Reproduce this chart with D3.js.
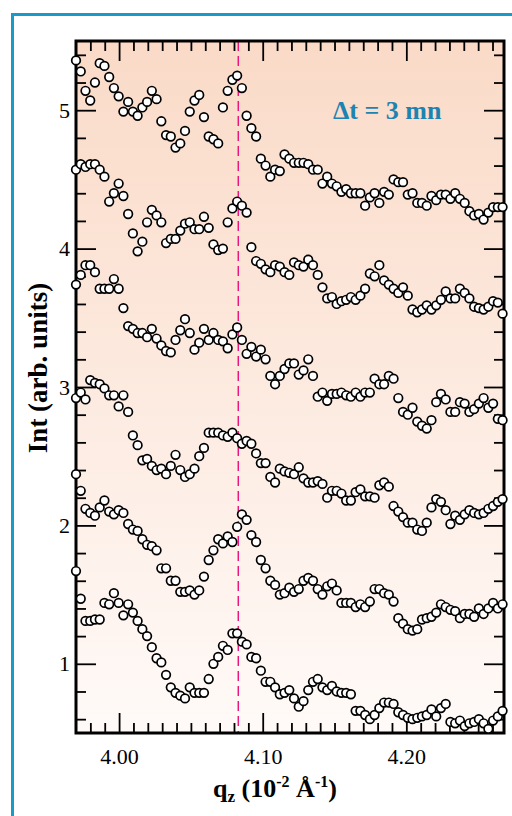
<!DOCTYPE html>
<html><head><meta charset="utf-8">
<script src="https://cdn.jsdelivr.net/npm/d3@7"></script>
<style>html,body{margin:0;padding:0;background:#fff;}svg{display:block;}</style>
</head><body>
<script>
// q_z values (10^-2 Å^-1), shared by every curve
const qz = [3.9700,3.9733,3.9766,3.9799,3.9832,3.9865,3.9898,3.9931,3.9964,3.9997,
4.0030,4.0063,4.0096,4.0129,4.0162,4.0195,4.0228,4.0261,4.0294,4.0327,
4.0360,4.0393,4.0426,4.0459,4.0492,4.0525,4.0558,4.0591,4.0624,4.0657,
4.0690,4.0723,4.0756,4.0789,4.0822,4.0855,4.0888,4.0921,4.0954,4.0987,
4.1020,4.1053,4.1086,4.1119,4.1152,4.1185,4.1218,4.1251,4.1284,4.1317,
4.1350,4.1383,4.1416,4.1449,4.1482,4.1515,4.1548,4.1581,4.1614,4.1647,
4.1680,4.1713,4.1746,4.1779,4.1812,4.1845,4.1878,4.1911,4.1944,4.1977,
4.2010,4.2043,4.2076,4.2109,4.2142,4.2175,4.2208,4.2241,4.2274,4.2307,
4.2340,4.2373,4.2406,4.2439,4.2472,4.2505,4.2538,4.2571,4.2604,4.2637,
4.2670];

const curve1 = [5.36,5.28,5.14,5.07,5.20,5.34,5.32,5.24,5.16,5.10,
4.99,5.06,4.99,4.96,5.02,5.06,5.14,5.08,4.92,4.82,
4.81,4.73,4.76,4.85,4.99,5.07,5.11,4.95,4.81,4.79,
4.76,5.02,5.14,5.22,5.25,5.16,4.96,4.87,4.81,4.65,
4.60,4.52,4.57,4.56,4.68,4.65,4.62,4.62,4.62,4.61,
4.57,4.57,4.47,4.52,4.47,4.45,4.41,4.43,4.40,4.40,
4.40,4.31,4.37,4.40,4.33,4.41,4.39,4.50,4.48,4.48,
4.39,4.40,4.33,4.33,4.31,4.38,4.35,4.39,4.39,4.36,
4.40,4.36,4.33,4.27,4.24,4.25,4.21,4.26,4.30,4.30,
4.30];
const curve2 = [4.57,4.61,4.59,4.61,4.61,4.57,4.52,4.34,4.40,4.47,
4.38,4.25,4.11,3.98,4.05,4.19,4.28,4.24,4.19,4.04,
4.07,4.07,4.13,4.18,4.19,4.14,4.14,4.23,4.15,4.03,
3.99,4.00,4.19,4.29,4.34,4.31,4.26,4.01,3.91,3.89,
3.85,3.83,3.88,3.87,3.83,3.81,3.90,3.88,3.87,3.92,
3.88,3.81,3.72,3.64,3.65,3.60,3.62,3.63,3.65,3.63,
3.66,3.71,3.82,3.80,3.88,3.77,3.74,3.71,3.68,3.72,
3.66,3.56,3.54,3.56,3.59,3.56,3.59,3.63,3.69,3.64,
3.64,3.71,3.68,3.64,3.58,3.57,3.56,3.58,3.62,3.61,
3.53];
const curve3 = [3.74,3.81,3.88,3.88,3.83,3.71,3.71,3.71,3.78,3.71,
3.57,3.44,3.42,3.39,3.39,3.36,3.42,3.35,3.30,3.26,
3.25,3.34,3.41,3.49,3.39,3.27,3.32,3.42,3.34,3.39,
3.34,3.33,3.28,3.38,3.43,3.34,3.24,3.29,3.22,3.27,
3.20,3.08,3.02,3.08,3.13,3.17,3.17,3.09,3.12,3.20,
3.08,2.93,2.96,2.90,2.95,2.95,2.96,2.94,2.93,2.96,
2.93,2.96,2.96,3.06,3.02,3.02,3.08,3.06,2.92,2.82,
2.80,2.85,2.75,2.72,2.70,2.76,2.89,2.95,2.91,2.82,
2.82,2.89,2.88,2.82,2.84,2.88,2.92,2.85,2.88,2.77,
2.76];
const curve4 = [2.92,2.96,2.91,3.05,3.03,3.02,2.99,2.94,2.94,2.86,
2.94,2.82,2.65,2.58,2.47,2.48,2.43,2.40,2.41,2.37,
2.43,2.51,2.40,2.35,2.37,2.41,2.50,2.56,2.67,2.67,
2.67,2.65,2.64,2.67,2.63,2.59,2.61,2.59,2.52,2.45,
2.45,2.35,2.31,2.41,2.39,2.38,2.37,2.42,2.34,2.31,
2.31,2.32,2.30,2.20,2.25,2.25,2.23,2.18,2.18,2.24,
2.26,2.21,2.21,2.20,2.29,2.31,2.28,2.14,2.10,2.06,
2.02,2.02,1.97,1.96,2.02,2.13,2.19,2.17,2.11,2.01,
2.07,2.04,2.08,2.11,2.09,2.08,2.09,2.12,2.14,2.17,
2.19];
const curve5 = [2.37,2.25,2.12,2.09,2.07,2.13,2.18,2.10,2.08,2.11,
2.09,2.01,1.97,1.96,1.90,1.86,1.85,1.82,1.69,1.69,
1.60,1.60,1.52,1.52,1.53,1.50,1.53,1.63,1.75,1.82,
1.90,1.87,1.92,1.88,1.99,2.08,2.04,1.93,1.88,1.75,
1.69,1.60,1.57,1.50,1.51,1.55,1.52,1.54,1.60,1.62,
1.60,1.54,1.50,1.56,1.58,1.53,1.44,1.44,1.44,1.41,
1.43,1.41,1.45,1.54,1.54,1.51,1.50,1.45,1.33,1.29,
1.25,1.24,1.25,1.32,1.33,1.34,1.37,1.43,1.41,1.39,
1.38,1.33,1.36,1.36,1.34,1.40,1.36,1.40,1.44,1.40,
1.43];
const curve6 = [1.67,1.47,1.31,1.31,1.32,1.32,1.44,1.43,1.51,1.44,
1.35,1.43,1.37,1.31,1.25,1.20,1.12,1.04,1.01,0.92,
0.83,0.79,0.77,0.75,0.83,0.79,0.79,0.79,0.89,1.00,
1.05,1.13,1.10,1.22,1.22,1.16,1.14,1.05,1.04,0.95,
0.87,0.87,0.83,0.78,0.79,0.81,0.75,0.69,0.73,0.81,
0.87,0.89,0.83,0.81,0.84,0.80,0.79,0.79,0.78,0.66,
0.66,0.63,0.60,0.63,0.68,0.72,0.72,0.71,0.65,0.63,
0.61,0.60,0.61,0.62,0.63,0.67,0.62,0.68,0.71,0.58,
0.57,0.59,0.55,0.57,0.58,0.60,0.57,0.53,0.59,0.62,
0.66];

const curves = [curve1, curve2, curve3, curve4, curve5, curve6];
const xMajorTicks = [4.00, 4.10, 4.20];
const yMajorTicks = [1, 2, 3, 4, 5];
const markerQ = 4.083;
const annotation = "Δt = 3 mn";

const W = 512, H = 816;
const L = 76, R = 504, T = 41, B = 733;
const serif = "'Liberation Serif','Times New Roman',Times,serif";

const svg = d3.select("body").append("svg").attr("width", W).attr("height", H);

const defs = svg.append("defs");
const grad = defs.append("linearGradient").attr("id", "bg").attr("x1", 0).attr("y1", 0).attr("x2", 0).attr("y2", 1);
grad.append("stop").attr("offset", "0%").attr("stop-color", "#fadac7");
grad.append("stop").attr("offset", "100%").attr("stop-color", "#fffaf8");

// outer frame
svg.append("rect").attr("x", 12.5).attr("y", 14.5).attr("width", 540).attr("height", 840)
  .attr("fill", "#fff").attr("stroke", "#1a9ac8").attr("stroke-width", 3);

const x = d3.scaleLinear().domain([3.97, 4.268]).range([L, R]);
const y = d3.scaleLinear().domain([0.5, 5.5]).range([B, T]);

svg.append("rect").attr("x", L).attr("y", T).attr("width", R - L).attr("height", B - T).attr("fill", "url(#bg)");

const xMinor = d3.range(398, 427).map(v => v / 100).filter(v => !xMajorTicks.some(m => Math.abs(m - v) < 1e-6));
const yMinor = d3.range(3, 28).map(v => v / 5).filter(v => !yMajorTicks.some(m => Math.abs(m - v) < 1e-6));

function styleAxis(g) {
  g.select(".domain").remove();
  g.selectAll(".tick line").attr("stroke", "#000").attr("stroke-width", 1.8);
  g.selectAll(".tick text").attr("fill", "#000").style("font-family", serif).style("font-size", "22px");
}

// bottom
svg.append("g").attr("transform", `translate(0,${B})`)
  .call(d3.axisBottom(x).tickValues(xMinor).tickSize(-10).tickFormat("")).call(styleAxis);
svg.append("g").attr("transform", `translate(0,${B})`)
  .call(d3.axisBottom(x).tickValues(xMajorTicks).tickSize(-20).tickPadding(15).tickFormat(d3.format(".2f"))).call(styleAxis);
// top
svg.append("g").attr("transform", `translate(0,${T})`)
  .call(d3.axisTop(x).tickValues(xMinor).tickSize(-10).tickFormat("")).call(styleAxis);
svg.append("g").attr("transform", `translate(0,${T})`)
  .call(d3.axisTop(x).tickValues(xMajorTicks).tickSize(-20).tickFormat("")).call(styleAxis);
// left
svg.append("g").attr("transform", `translate(${L},0)`)
  .call(d3.axisLeft(y).tickValues(yMinor).tickSize(-10).tickFormat("")).call(styleAxis);
svg.append("g").attr("transform", `translate(${L},0)`)
  .call(d3.axisLeft(y).tickValues(yMajorTicks).tickSize(-20).tickPadding(6).tickFormat(d3.format("d"))).call(styleAxis);
// right
svg.append("g").attr("transform", `translate(${R},0)`)
  .call(d3.axisRight(y).tickValues(yMinor).tickSize(-10).tickFormat("")).call(styleAxis);
svg.append("g").attr("transform", `translate(${R},0)`)
  .call(d3.axisRight(y).tickValues(yMajorTicks).tickSize(-20).tickFormat("")).call(styleAxis);

// dashed marker line
svg.append("line").attr("x1", x(markerQ)).attr("x2", x(markerQ)).attr("y1", T).attr("y2", B)
  .attr("stroke", "#e8187f").attr("stroke-width", 1.5).attr("stroke-dasharray", "10,5");

// plot frame
svg.append("rect").attr("x", L).attr("y", T).attr("width", R - L).attr("height", B - T)
  .attr("fill", "none").attr("stroke", "#000").attr("stroke-width", 3);

// data points
curves.forEach(c => {
  svg.append("g").selectAll("circle").data(c).join("circle")
    .attr("cx", (d, i) => x(qz[i])).attr("cy", d => y(d)).attr("r", 4.3)
    .attr("fill", "#fff").attr("stroke", "#000").attr("stroke-width", 1.7);
});

// annotation
svg.append("text").attr("x", 333).attr("y", 119).text(annotation)
  .style("font-family", serif).style("font-weight", "bold").style("font-size", "26px").attr("fill", "#1d83b0");

// x title
const xt = svg.append("text").attr("x", 275).attr("y", 797).attr("text-anchor", "middle")
  .style("font-family", serif).style("font-weight", "bold").style("font-size", "26px").attr("fill", "#000");
xt.append("tspan").text("q");
xt.append("tspan").text("z").attr("dy", 5).style("font-size", "17px");
xt.append("tspan").text(" (10").attr("dy", -5);
xt.append("tspan").text("-2").attr("dy", -10).style("font-size", "16px");
xt.append("tspan").text(" Å").attr("dy", 10);
xt.append("tspan").text("-1").attr("dy", -10).style("font-size", "16px");
xt.append("tspan").text(")").attr("dy", 10);

// y title
svg.append("text").attr("transform", "translate(47,368) rotate(-90)").attr("text-anchor", "middle")
  .text("Int (arb. units)")
  .style("font-family", serif).style("font-weight", "bold").style("font-size", "27px").attr("fill", "#000");
</script>
</body></html>
